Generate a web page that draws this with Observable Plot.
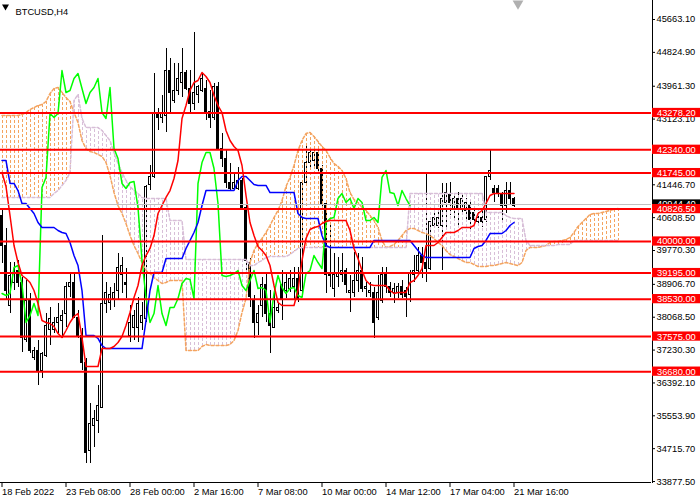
<!DOCTYPE html>
<html>
<head>
<meta charset="utf-8">
<script src="https://cdn.jsdelivr.net/npm/d3@7"></script>
<script src="https://cdn.jsdelivr.net/npm/@observablehq/plot@0.6"></script>
<style>
  body { margin: 0; background: #fff; }
  #chart svg { display: block; }
</style>
</head>
<body>
<div id="chart"></div>
<script>
const symbol = "BTCUSD,H4";

// H4 candles, one per bar
const opens = [40663,39898,38367,38929,39260,38929,37475,38495,37041,37219,
  36709,37092,37730,37730,37934,37985,38163,38827,38954,38061,
  37602,36913,34668,35306,35434,35765,38418,38444,38546,38750,
  39133,38954,37602,37806,37806,37934,38036,41429,41633,43265,
  43163,43214,44362,43597,43852,44056,44286,43903,43520,43725,
  43852,43903,43291,43138,43929,42372,42117,41480,41352,41352,
  41531,40867,39464,38495,37934,38367,38878,38163,37806,38240,
  38878,38750,38801,38827,39031,38750,41505,42015,42066,42270,
  41862,40969,39184,38801,39082,39133,39260,38674,38699,39005,
  39260,38776,38674,38699,38061,38495,39133,38827,38674,38674,
  38827,38750,38623,39133,39260,39643,39464,39311,40408,40408,
  40408,40995,41174,40842,41097,40842,40791,40918,40740,40485,
  40612,40536,41633,41352,41352,41174,40918,41301,41097];
const highs = [40842,40332,39464,39464,39515,39082,39005,38674,37296,37475,
  37168,38163,38316,38061,38418,38240,38954,39184,39184,38240,
  37781,37015,35867,35689,36327,40153,38954,38827,38929,39694,
  39592,39311,38367,38240,38572,38444,41429,41939,44286,43393,
  43725,44924,44668,44541,44541,44924,44362,44362,45332,43980,
  44286,44107,43852,44031,44056,42755,42322,41990,41735,41888,
  41607,40918,39566,38623,38367,39082,39184,38750,38827,38418,
  39260,39184,39260,39337,39337,41505,42449,42322,42322,42322,
  41939,41046,40485,39694,39592,39694,39311,39133,39720,39694,
  39592,38954,38954,38827,39133,39337,39337,38954,38929,38929,
  39005,38827,39260,39643,39848,39848,41735,40485,40791,40740,
  41480,41480,41505,41225,41250,41174,41097,40995,40842,40740,
  40791,41633,42322,41429,41429,41250,41505,41505,41123];
const lows = [39439,38495,38163,38750,38827,37168,37424,37143,36964,36327,
  36505,37041,37347,37653,37653,37526,37806,38572,38036,37526,
  36709,34337,34337,34745,35102,35740,38163,38240,38316,38495,
  38674,38546,37424,37475,37424,37730,37934,41301,41607,42832,
  43010,42781,43291,43520,43725,43673,43852,43291,43342,43520,
  43801,43087,42883,43087,42322,41888,41352,41301,41301,41301,
  40791,39184,38316,37526,37602,38061,37934,37143,37781,38163,
  37985,38546,38699,38495,38444,38572,41480,41862,41888,41760,
  40867,38674,38827,38572,38827,38954,38674,38189,38572,38699,
  38699,38572,38572,37526,37985,38418,38674,38572,38418,38546,
  38546,38061,38444,38954,39184,39056,38954,39260,40357,40332,
  39260,40357,40663,40536,40408,40663,40536,40230,40408,40434,
  40357,40485,41556,40995,41123,40459,40714,40918,40867];
const closes = [39898,38750,39108,39209,38954,37551,38495,37219,37219,36709,
  37143,37857,38036,37934,38061,38112,38827,38954,38061,37602,
  36913,34617,35357,35485,35816,38418,38674,38623,38674,39337,
  39388,38903,37934,38112,38418,38112,41378,41633,43265,43163,
  43265,44362,43801,43852,44158,44286,43903,43520,43801,43929,
  44158,43291,43138,43929,42372,42117,41480,41352,41505,41531,
  40867,39515,38572,37934,38163,38878,38163,37857,38316,38316,
  38546,38929,39056,39031,38546,41480,42015,42270,42270,41862,
  40969,39133,39108,39133,39184,39260,38878,38750,39005,39260,
  38801,38827,38750,37934,38674,39133,38827,38674,38801,38827,
  38623,38572,39184,39260,39643,39464,39311,40485,40587,40612,
  41097,41225,40995,41097,40842,41097,40995,40536,40536,40612,
  40485,41633,41811,41250,41225,40918,41301,41097,40918];

// Ichimoku lines, one value per bar
const tenkan = [41760,41403,40663,39898,39464,39133,39056,38954,38750,38418,
  37985,37934,37908,37832,37653,37551,37730,37934,38087,38163,
  37551,36811,36811,36811,36811,37270,37270,37270,37322,37424,
  37577,37857,38189,38572,38878,39388,39643,39822,40153,40714,
  40918,41123,41301,41607,42066,43138,43469,43852,44056,44107,
  44311,44209,44056,43725,43469,43291,42832,42577,42423,42322,
  41939,41174,40485,40153,39873,39771,39643,39388,38878,38444,
  38367,38367,38367,38367,38750,39515,40077,40306,40357,40383,
  40459,40510,40536,40536,40536,40536,40536,40281,39822,39566,
  39260,39005,38903,38878,38878,38878,38878,38750,38674,38699,
  38699,38699,38954,39005,39133,39311,39898,39898,39898,39975,
  40102,40230,40230,40230,40281,40357,40357,40357,40408,40714,
  40791,40969,41174,41225,41225,41225,41225,41225,41225];
const kijun = [42066,42066,41480,41480,41301,40969,40969,40842,40714,40485,
  40357,40357,40357,40357,40281,40230,40204,39975,39643,39388,
  38750,37602,37602,37602,37526,37347,37270,37270,37270,37270,
  37270,37270,37270,37270,37270,37270,37985,38750,39209,39209,
  39209,39566,39566,39566,39566,39566,39822,40026,40230,40485,
  40918,41301,41301,41301,41301,41301,41301,41301,41301,41556,
  41658,41658,41556,41454,41429,41429,41429,41250,41250,41250,
  41250,41250,41250,41250,40714,40612,40587,40587,40587,40587,
  40153,39898,39848,39848,39848,39848,39848,39848,39848,39848,
  39848,39848,39848,40026,40026,40026,40026,40026,40026,40026,
  40026,40026,40026,39898,39771,39643,39592,39592,39592,39592,
  39592,39592,39592,39592,39592,39592,39592,39592,39822,39873,
  39898,40026,40204,40204,40204,40204,40281,40408,40485];
const spanA = [43214,43214,43214,43214,43214,43240,43291,43367,43418,43469,
  43495,43571,43776,43903,43929,43801,43673,43571,43291,43036,
  42577,42372,42296,42270,42220,42169,42015,41684,41250,40918,
  40714,40459,40153,39898,39694,39464,39260,39184,39082,39005,
  38929,38954,39005,39005,39005,39005,37219,37219,37219,37219,
  37322,37373,37347,37347,37347,37347,37347,37373,37475,37730,
  38189,38546,39464,39771,39949,40077,40230,40408,40612,40791,
  41046,41403,41633,41939,42322,42577,42755,42781,42679,42551,
  42423,42322,42143,41990,41913,41811,41607,41250,41071,40995,
  40867,40791,40663,40536,40357,40026,39848,39873,39924,40026,
  40153,40281,40332,40332,40281,40230,40204,40153,40077,39975,
  39898,39771,39669,39617,39566,39515,39464,39464,39413,39362,
  39362,39362,39388,39388,39413,39439,39464,39439,39413,39388,
  39464,39771,39848,39848,39848,39873,39898,39975,40000,40000,
  40026,40051,40102,40230,40383,40485,40587,40689,40714,40714,
  40740,40765,40791,40816,40842];
const spanB = [41123,41123,41123,41123,41123,41123,41123,41123,41123,41123,
  41123,41123,41123,41225,41301,41429,41556,41760,43597,43750,
  43138,42908,42908,42908,42908,42832,42704,42577,42270,41990,
  41760,41556,41403,41301,41225,41123,41097,41097,41097,41097,
  41097,41097,40536,40536,40536,40536,39541,39541,39541,39541,
  39541,39541,39541,39541,39541,39541,39541,39541,39541,39541,
  39541,39541,39388,39388,39464,39515,39592,39617,39617,39617,
  39617,39617,39669,39745,39822,39848,39848,39848,39848,39848,
  39848,39848,39848,39848,39848,39848,39848,39848,39848,39848,
  39848,39848,39848,39848,39848,39848,39848,39848,39848,39848,
  39848,39848,41225,41225,41225,41225,41225,41225,41225,41225,
  41225,41225,41225,41225,41225,41225,41225,41225,41225,41225,
  41225,40740,40740,40740,40740,40740,40663,40612,40587,40587,
  40587,40026,39898,39898,39898,39898,39898,39898,39898,39924,
  39924,39924,39924,40026,40026,40026,40026,40026,40026,40026,
  40026,40026,40026,40026,40026];

// horizontal levels and the current bid line
const levels = [43278.2, 42340, 41745, 40826.5, 40000, 39195, 38530, 37575, 36680];
const bid = 40944.4;

const yTicks = [45663.1, 44824.9, 43961.3, 43123.1, 42284.9, 41446.7, 40608.5, 39770.3,
  38906.7, 38068.5, 37230.3, 36392.1, 35553.9, 34715.7, 33877.5];
const xTickBars = [0, 16, 32, 48, 64, 80, 96, 112, 128];
const xTickLabels = ["18 Feb 2022", "23 Feb 08:00", "28 Feb 00:00", "2 Mar 16:00", "7 Mar 08:00",
  "10 Mar 00:00", "14 Mar 12:00", "17 Mar 04:00", "21 Mar 16:00"];

const candles = opens.map((o, i) => ({bar: i, o, h: highs[i], l: lows[i], c: closes[i]}));
const cloud = spanA.map((a, i) => ({bar: i, a, b: spanB[i]}));
const cloudUp = cloud.filter(d => d.a >= d.b);
const cloudDown = cloud.filter(d => d.a < d.b);
const chikou = closes.slice(26); // close plotted 26 bars back

// 4 px per bar; domain shifted half a pixel so 1px strokes sit on whole pixels
const xLo = -0.375, xHi = 162.375;
const xAxisAt = 162.5;
const yMin = 33827, yMax = 46148;
const boxH = 118; // half height of the price boxes, in price units
const font = "'Liberation Sans', Arial, sans-serif";
// the tick hidden under the 42340.00 box keeps its mark but no label
const hiddenTick = 42284.9;

const sandy = "#F4A460";
const thistle = "#D8BFD8";

const chart = Plot.plot({
  width: 700,
  height: 500,
  marginLeft: 0,
  marginRight: 49,
  marginTop: 0,
  marginBottom: 17,
  style: {fontFamily: font, fontSize: "9.3px", background: "white", color: "black"},
  x: {type: "linear", domain: [xLo, xHi], axis: null},
  y: {domain: [yMin, yMax], axis: null},
  marks: [
    // candles
    Plot.ruleX(candles, {x: "bar", y1: "l", y2: "h", stroke: "black", shapeRendering: "crispEdges"}),
    Plot.rect(candles, {
      x1: d => d.bar - 0.25, x2: d => d.bar + 0.25, y1: "o", y2: "c",
      fill: d => d.c >= d.o ? "white" : "black", stroke: "black", shapeRendering: "crispEdges"
    }),
    // kumo: one dotted column per bar
    Plot.ruleX(cloudUp, {x: "bar", y1: "a", y2: "b", stroke: sandy, strokeDasharray: "3,2", shapeRendering: "crispEdges"}),
    Plot.ruleX(cloudDown, {x: "bar", y1: "a", y2: "b", stroke: thistle, strokeDasharray: "3,2", shapeRendering: "crispEdges"}),
    Plot.lineY(spanA, {stroke: sandy, strokeDasharray: "3,2"}),
    Plot.lineY(spanB, {stroke: thistle, strokeDasharray: "3,2"}),
    // lines
    Plot.lineY(chikou, {stroke: "#00FF00"}),
    Plot.lineY(kijun, {stroke: "#0000FF"}),
    Plot.lineY(tenkan, {stroke: "#FF0000"}),
    // bid + levels
    Plot.ruleY([bid], {stroke: "#C0C0C0"}),
    Plot.ruleY(levels, {stroke: "#FF0000", strokeWidth: 2}),
    // frame lines
    Plot.ruleX([xAxisAt], {stroke: "black", shapeRendering: "crispEdges"}),
    Plot.ruleY([yMin + 13], {stroke: "black", shapeRendering: "crispEdges"}),
    Plot.axisY(yTicks, {
      anchor: "right", tickSize: 3, tickPadding: 2, fill: "black", label: null,
      tickFormat: d => d === hiddenTick ? "" : d.toFixed(2)
    }),
    Plot.axisX(xTickBars, {
      anchor: "bottom", tickSize: 4, tickPadding: 1, textAnchor: "start", fill: "black", label: null,
      tickFormat: d => xTickLabels[xTickBars.indexOf(d)]
    }),
    // price boxes on the scale
    Plot.rect([bid], {x1: xAxisAt + 0.125, x2: xAxisAt + 12.125, y1: d => d - boxH, y2: d => d + boxH, fill: "black"}),
    Plot.text([bid], {x: xAxisAt, y: d => d, text: d => d.toFixed(2), textAnchor: "start", dx: 5, fill: "white"}),
    Plot.rect(levels, {x1: xAxisAt + 0.125, x2: xAxisAt + 12.125, y1: d => d - boxH, y2: d => d + boxH, fill: "#FF0000"}),
    Plot.text(levels, {x: xAxisAt, y: d => d, text: d => d.toFixed(2), textAnchor: "start", dx: 5, fill: "white"}),
    // title + markers
    Plot.dot([0], {frameAnchor: "top-left", dx: 5, dy: 6, symbol: "triangle", rotate: 180, r: 2.6, fill: "black", stroke: null}),
    Plot.text([symbol], {frameAnchor: "top-left", dx: 15, dy: 8, textAnchor: "start", fill: "black"}),
    Plot.dot([0], {x: 129, y: yMax, dy: 3, symbol: "triangle", rotate: 180, r: 4, fill: "#b0b0b0", stroke: null})
  ]
});

d3.select("#chart").append(() => chart);
</script>
</body>
</html>
